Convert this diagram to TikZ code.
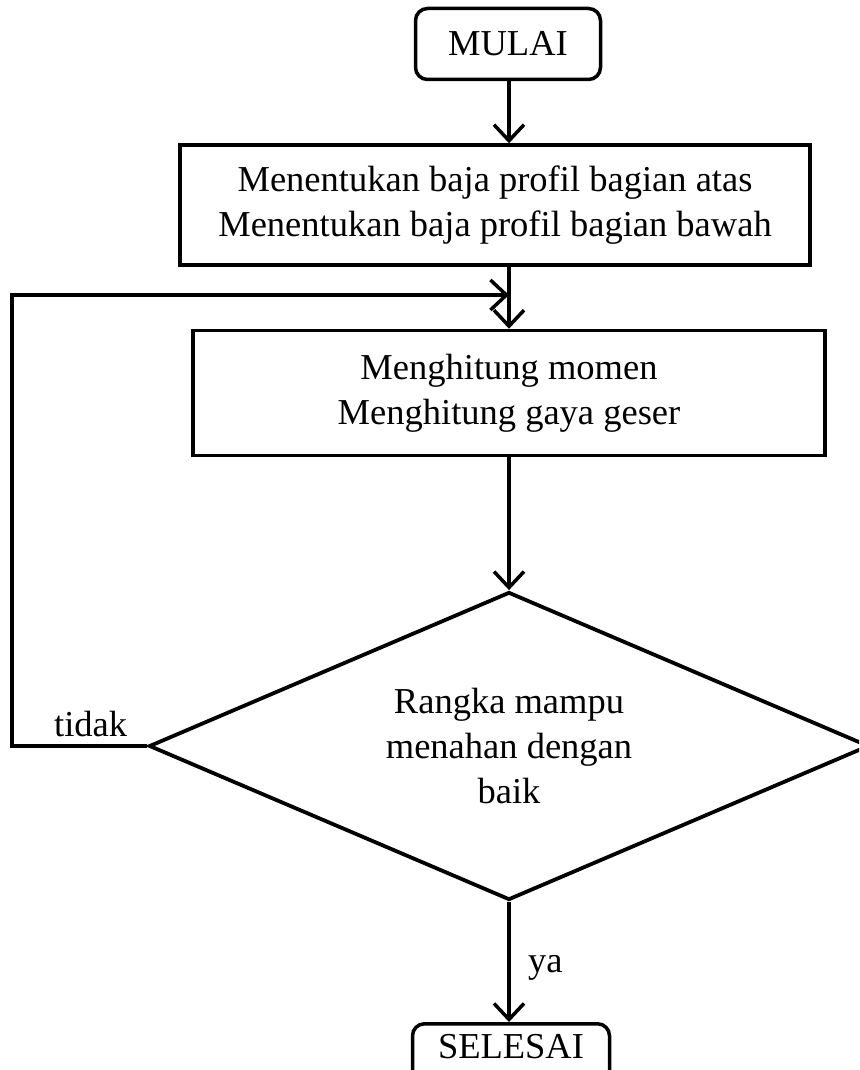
\documentclass[tikz,border=0pt]{standalone}
\usepackage{fontspec}
\setmainfont{Liberation Serif}
\usetikzlibrary{shapes.geometric,arrows.meta}
\begin{document}
\begin{tikzpicture}[x=1pt,y=-1pt,
  every node/.style={font=\fontsize{36.5}{45}\selectfont},
  arr/.style={line width=3.5pt,-{Straight Barb[length=16pt,width=30pt,line width=3.5pt]}},
  termbox/.style={draw,line width=3.5pt,rounded corners=12pt,inner sep=0pt,align=center},
  procbox/.style={draw,line width=3.5pt,inner sep=0pt,align=center},
  decbox/.style={draw,line width=3.8pt,diamond,aspect=2.33,inner sep=0pt,align=center}]
\clip (0,0) rectangle (859,1070);
\fill[white] (0,0) rectangle (859,1070);
\coordinate (ax) at (509,0);
\node[termbox,minimum width=185pt,minimum height=71pt] (mulai) at (508,44) {MULAI};
\node[procbox,minimum width=630pt,minimum height=120pt] (b2) at (495,205)
  {Menentukan baja profil bagian atas\\Menentukan baja profil bagian bawah};
\node[procbox,minimum width=632pt,minimum height=125pt] (b3) at (509,393)
  {Menghitung momen\\Menghitung gaya geser};
\node[decbox,minimum width=720pt,minimum height=308pt] (dia) at (509,746)
  {Rangka mampu\\menahan dengan\\baik};
\node[termbox,minimum width=197pt,minimum height=100pt,anchor=north] (sel) at (511,1022) {};
\node (seltxt) at (511,1047) {SELESAI};
\coordinate (fb) at (12,295);
\coordinate (j) at (509,295);
\draw[arr] (ax |- mulai.south) -- (ax |- b2.north);
\draw[arr] (ax |- b2.south) -- (ax |- b3.north);
\draw[arr] (ax |- b3.south) -- (dia.north);
\draw[arr] (dia.west) -| (fb) -- (j);
\draw[arr] (dia.south) -- (dia.south |- sel.north);
\node[anchor=base west,inner sep=0pt] (tidak) at (54,736) {tidak};
\node[anchor=west,inner sep=0pt] (ya) at (528,968) {ya};
\end{tikzpicture}
\end{document}
